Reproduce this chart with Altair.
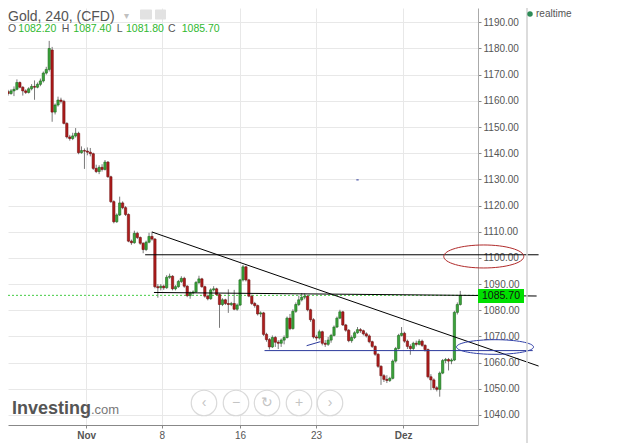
import json
import altair as alt
import pandas as pd

# ---------------- data (4h candles) ----------------
opens = [1163.5, 1162.8, 1163.8, 1164.4, 1167.0, 1165.2, 1163.8, 1163.2, 1164.6, 1165.5,
         1165.2, 1166.3, 1167.6, 1170.6, 1172.0, 1179.4, 1155.7, 1158.4, 1160.3, 1159.8,
         1151.4, 1146.2, 1145.6, 1146.6, 1147.6, 1140.2, 1141.0, 1140.8, 1140.4, 1139.8,
         1134.2, 1133.0, 1134.6, 1133.8, 1136.6, 1131.0, 1121.5, 1113.8, 1116.4, 1121.0,
         1119.2, 1116.6, 1106.4, 1105.8, 1109.4, 1107.8, 1105.6, 1103.2, 1106.0, 1108.2,
         1107.2, 1089.0, 1088.6, 1089.2, 1088.6, 1092.6, 1093.0, 1088.2, 1089.0, 1091.0,
         1092.2, 1089.2, 1085.6, 1086.6, 1087.0, 1090.6, 1092.0, 1089.0, 1085.4, 1084.4,
         1087.8, 1088.2, 1086.0, 1082.2, 1084.0, 1082.6, 1082.2, 1082.6, 1080.4, 1082.0,
         1091.6, 1096.6, 1091.6, 1085.4, 1082.6, 1081.8, 1078.6, 1079.0, 1070.8, 1068.8,
         1066.0, 1069.6, 1067.8, 1067.4, 1068.6, 1069.6, 1077.0, 1073.0, 1079.6, 1082.2,
         1084.0, 1085.0, 1085.4, 1080.2, 1076.4, 1069.8, 1069.4, 1071.8, 1067.4, 1067.0,
         1068.6, 1070.4, 1073.6, 1077.0, 1079.4, 1074.4, 1072.4, 1068.4, 1069.6, 1071.4,
         1072.6, 1072.2, 1071.0, 1070.2, 1068.0, 1066.2, 1063.2, 1058.6, 1055.0, 1053.6,
         1053.2, 1054.0, 1060.6, 1065.4, 1070.4, 1071.2, 1068.2, 1066.2, 1065.4, 1067.4,
         1067.0, 1068.2, 1066.6, 1065.0, 1054.6, 1053.4, 1050.4, 1049.8, 1056.0, 1060.8,
         1061.2, 1060.6, 1061.0, 1079.2, 1082.2]
highs = [1164.2, 1164.5, 1165.5, 1168.2, 1167.4, 1165.6, 1164.4, 1165.2, 1166.4, 1167.8,
         1167.0, 1168.5, 1171.2, 1173.0, 1182.9, 1180.6, 1159.0, 1161.6, 1161.2, 1160.4,
         1151.8, 1147.0, 1147.8, 1149.6, 1148.2, 1142.6, 1141.8, 1142.2, 1142.0, 1140.2,
         1135.6, 1135.4, 1135.8, 1137.4, 1137.0, 1131.4, 1122.0, 1117.0, 1123.4, 1121.6,
         1119.8, 1117.0, 1107.0, 1110.4, 1110.0, 1108.2, 1106.0, 1106.6, 1109.6, 1110.0,
         1107.6, 1090.0, 1090.0, 1089.8, 1093.4, 1094.0, 1093.4, 1089.6, 1091.6, 1093.0,
         1092.8, 1089.6, 1087.2, 1087.6, 1091.2, 1093.2, 1092.4, 1089.4, 1086.0, 1088.4,
         1089.2, 1088.6, 1086.4, 1084.6, 1084.4, 1088.0, 1083.2, 1087.8, 1082.6, 1092.0,
         1097.3, 1097.0, 1092.0, 1086.0, 1083.2, 1082.2, 1079.6, 1079.4, 1071.4, 1069.4,
         1070.4, 1070.2, 1068.6, 1069.2, 1070.4, 1077.6, 1078.6, 1080.4, 1083.0, 1085.6,
         1086.6, 1086.4, 1085.8, 1080.6, 1077.0, 1070.6, 1072.6, 1072.2, 1068.6, 1069.8,
         1071.0, 1074.2, 1077.6, 1080.2, 1079.8, 1074.8, 1072.8, 1070.4, 1072.0, 1073.6,
         1073.2, 1072.6, 1071.6, 1070.8, 1068.4, 1066.6, 1063.6, 1059.0, 1055.6, 1055.2,
         1054.6, 1061.2, 1066.0, 1071.0, 1073.6, 1071.8, 1068.8, 1067.0, 1068.0, 1068.4,
         1069.0, 1068.8, 1067.0, 1065.4, 1055.6, 1054.0, 1051.0, 1056.6, 1061.4, 1061.8,
         1061.8, 1061.6, 1079.8, 1083.0, 1087.4]
lows = [1162.0, 1162.3, 1161.8, 1164.0, 1164.8, 1162.0, 1162.6, 1162.8, 1164.0, 1160.4,
        1164.8, 1165.6, 1167.0, 1170.0, 1171.2, 1152.0, 1154.8, 1157.8, 1159.0, 1151.0,
        1145.6, 1144.8, 1145.0, 1146.0, 1139.6, 1139.8, 1134.0, 1139.2, 1138.8, 1133.6,
        1132.4, 1132.0, 1133.0, 1133.4, 1130.6, 1121.0, 1113.2, 1113.4, 1116.0, 1118.6,
        1116.0, 1106.0, 1105.0, 1105.4, 1107.2, 1105.0, 1101.8, 1102.6, 1105.6, 1106.6,
        1088.4, 1084.8, 1087.6, 1087.8, 1088.2, 1092.0, 1087.6, 1087.6, 1088.6, 1090.4,
        1088.6, 1085.0, 1084.4, 1086.0, 1086.6, 1090.0, 1088.6, 1084.8, 1083.8, 1084.0,
        1087.2, 1085.6, 1073.3, 1081.6, 1082.0, 1079.0, 1081.6, 1080.0, 1079.8, 1081.6,
        1091.0, 1091.0, 1085.0, 1082.0, 1081.0, 1078.0, 1077.4, 1070.2, 1068.0, 1065.0,
        1065.6, 1066.0, 1065.2, 1066.0, 1067.0, 1069.2, 1072.4, 1072.6, 1079.0, 1081.6,
        1083.4, 1084.2, 1079.6, 1075.6, 1069.2, 1068.4, 1068.8, 1066.6, 1066.0, 1066.4,
        1067.6, 1070.0, 1073.2, 1076.6, 1074.0, 1071.8, 1067.8, 1067.6, 1069.0, 1071.0,
        1071.4, 1070.4, 1069.6, 1067.4, 1065.6, 1062.6, 1058.0, 1051.5, 1052.6, 1052.2,
        1052.6, 1053.6, 1060.0, 1065.0, 1070.0, 1067.6, 1065.2, 1063.0, 1064.6, 1066.2,
        1066.6, 1066.0, 1064.2, 1054.0, 1049.5, 1049.6, 1049.0, 1047.0, 1055.6, 1059.8,
        1057.0, 1059.4, 1060.6, 1078.4, 1081.8]
closes = [1162.8, 1163.8, 1164.4, 1167.0, 1165.2, 1163.8, 1163.2, 1164.6, 1165.5, 1165.2,
          1166.3, 1167.6, 1170.6, 1172.0, 1180.0, 1155.7, 1158.4, 1160.3, 1159.8, 1151.4,
          1146.2, 1145.6, 1146.6, 1147.6, 1140.2, 1141.0, 1140.8, 1140.4, 1139.8, 1134.2,
          1133.0, 1134.6, 1133.8, 1136.6, 1131.0, 1121.5, 1113.8, 1116.4, 1121.0, 1119.2,
          1116.6, 1106.4, 1105.8, 1109.4, 1107.8, 1105.6, 1103.2, 1106.0, 1108.2, 1107.2,
          1089.0, 1088.6, 1089.2, 1088.6, 1092.6, 1093.0, 1088.2, 1089.0, 1091.0, 1092.2,
          1089.2, 1085.6, 1086.6, 1087.0, 1090.6, 1092.0, 1089.0, 1085.4, 1084.4, 1087.8,
          1088.2, 1086.0, 1082.2, 1084.0, 1082.6, 1082.2, 1082.6, 1080.4, 1082.0, 1091.6,
          1096.6, 1091.6, 1085.4, 1082.6, 1081.8, 1078.6, 1079.0, 1070.8, 1068.8, 1066.0,
          1069.6, 1067.8, 1067.4, 1068.6, 1069.6, 1077.0, 1073.0, 1079.6, 1082.2, 1084.0,
          1085.0, 1085.4, 1080.2, 1076.4, 1069.8, 1069.4, 1071.8, 1067.4, 1067.0, 1068.6,
          1070.4, 1073.6, 1077.0, 1079.4, 1074.4, 1072.4, 1068.4, 1069.6, 1071.4, 1072.6,
          1072.2, 1071.0, 1070.2, 1068.0, 1066.2, 1063.2, 1058.6, 1055.0, 1053.6, 1053.2,
          1054.0, 1060.6, 1065.4, 1070.4, 1071.2, 1068.2, 1066.2, 1065.4, 1067.4, 1067.0,
          1068.2, 1066.6, 1065.0, 1054.6, 1053.4, 1050.4, 1049.8, 1056.0, 1060.8, 1061.2,
          1060.6, 1061.0, 1079.2, 1082.2, 1085.7]

tick_pos = [26.57, 52.33, 79.0, 104.9, 134.57]
tick_labels = ["Nov", "8", "16", "23", "Dez"]
price_ticks = [1040, 1050, 1060, 1070, 1080, 1090, 1100, 1110, 1120, 1130,
               1140, 1150, 1160, 1170, 1180, 1190]

# drawn annotations (candle index, price)
black_lines = {
    "trend": ([49.0, 180.67], [1109.9, 1058.7]),
    "resist": ([46.67, 180.67], [1101.2, 1101.2]),
    "mid": ([49.67, 180.0], [1086.8, 1085.45]),
}
blue_lines = {
    "support": ([87.33, 178.67], [1064.6, 1064.6]),
    "short": ([101.67, 106.33], [1066.47, 1068.0]),
    "dash": ([118.6, 119.4], [1129.8, 1129.8]),
}
red_ellipse = (162.0, 1100.55)
blue_ellipse = (165.83, 1065.97)
last_price = closes[-1]

# ---------------- chart ----------------
FONT = "Liberation Sans"
df = pd.DataFrame({"k": list(range(len(opens))), "open": opens, "high": highs,
                   "low": lows, "close": closes})
df["dir"] = ["up" if c >= o else "down" for o, c in zip(opens, closes)]

xscale = alt.Scale(domain=[1.667, 158.333], nice=False, zero=False)
yscale = alt.Scale(domain=[1036.18, 1195.46], nice=False, zero=False)

label_expr = f"{json.dumps(tick_labels)}[indexof({json.dumps(tick_pos)}, datum.value)]"
xaxis = alt.Axis(values=tick_pos, labelExpr=label_expr, grid=True, gridColor="#e8e8e8",
                 domainColor="#888", tickColor="#888", tickSize=3, labelPadding=2,
                 labelColor="#555", labelFontSize=10, labelFont=FONT, title=None,
                 labelFontWeight={"condition": {"test": "datum.value < 30 || datum.value > 130",
                                                "value": "bold"}, "value": "normal"})
yaxis = alt.Axis(orient="right", values=price_ticks, format=".2f", grid=True,
                 gridColor="#e8e8e8", domainColor="#aaa", tickColor="#888", tickSize=3,
                 labelPadding=2, labelColor="#555", labelFontSize=10, labelFont=FONT,
                 title=None)


def X(field):
    return alt.X(field, scale=xscale, axis=xaxis)


def Y(field):
    return alt.Y(field, scale=yscale, axis=yaxis)


wicks = alt.Chart(df).mark_rule(color="#7a7a7a", strokeWidth=1, clip=True).encode(
    x=X("k:Q"), y=Y("low:Q"), y2="high:Q")
bodies = alt.Chart(df).mark_bar(size=2.3, strokeWidth=0.6, clip=True).encode(
    x=X("k:Q"), y=Y("open:Q"), y2="close:Q",
    color=alt.Color("dir:N", scale=alt.Scale(domain=["up", "down"], range=["#3aa43a", "#b01c1c"]),
                    legend=None),
    stroke=alt.Stroke("dir:N", scale=alt.Scale(domain=["up", "down"], range=["#1f6a1f", "#6e0d0d"]),
                      legend=None),
)

dotted = alt.Chart(pd.DataFrame({"p": [last_price]})).mark_rule(
    color="#44cc44", strokeDash=[2, 2], strokeWidth=1).encode(y=Y("p:Q"))


def lines_df(d):
    rows = []
    for name, (ks, ps) in d.items():
        for kk, pp in zip(ks, ps):
            rows.append({"id": name, "k": kk, "p": pp})
    return pd.DataFrame(rows)


blk = alt.Chart(lines_df(black_lines)).mark_line(color="black", strokeWidth=1).encode(
    x=X("k:Q"), y=Y("p:Q"), detail="id:N")
blu = alt.Chart(lines_df(blue_lines)).mark_line(color="#2c3a9c", strokeWidth=1).encode(
    x=X("k:Q"), y=Y("p:Q"), detail="id:N")


def ellipse_path(b):
    c = 0.5523
    return (f"M -1,0 C -1,{-b*c:.4f} {-c:.4f},{-b:.4f} 0,{-b:.4f} "
            f"C {c:.4f},{-b:.4f} 1,{-b*c:.4f} 1,0 "
            f"C 1,{b*c:.4f} {c:.4f},{b:.4f} 0,{b:.4f} "
            f"C {-c:.4f},{b:.4f} -1,{b*c:.4f} -1,0 Z")


def ellipse(center, b, size, color):
    return alt.Chart(pd.DataFrame({"k": [center[0]], "p": [center[1]]})).mark_point(
        shape=ellipse_path(b), size=size, filled=False, stroke=color, strokeWidth=1,
        opacity=1).encode(x=X("k:Q"), y=Y("p:Q"))


ell_red = ellipse(red_ellipse, 0.2875, 6400, "#b02a2a")
ell_blue = ellipse(blue_ellipse, 0.19, 5929, "#3040a8")

one = pd.DataFrame({"a": [0]})


def txt(t, px, py, color="#555", size=10, weight="normal", align="left", baseline="middle"):
    return alt.Chart(one).mark_text(text=t, align=align, baseline=baseline, font=FONT,
                                    fontSize=size, fontWeight=weight, color=color).encode(
        x=alt.value(px), y=alt.value(py))


def box(x1, x2, y1, y2, fill, radius=0):
    return alt.Chart(one).mark_rect(fill=fill, cornerRadius=radius).encode(
        x=alt.value(x1), x2=alt.value(x2), y=alt.value(y1), y2=alt.value(y2))


header = [
    txt("Gold, 240, (CFD)", 0, 1.5, color="#555", size=14, baseline="top"),
    txt("▾", 116, 7.5, color="#c0c0c0", size=10),
    box(132, 144, 1.5, 11.5, "#e2e2e2", radius=1),
    box(147, 158, 1.5, 11.5, "#e2e2e2", radius=1),
]
ohlc_vals = [opens[-1], highs[-1], lows[-1], closes[-1]]
ohlc_letters = ["O", "H", "L", "C"]
letter_x = [0, 53.7, 108.7, 160]
value_x = [10.3, 65.3, 118, 173.7]
for lt, lx, v, vx in zip(ohlc_letters, letter_x, ohlc_vals, value_x):
    header.append(txt(lt, lx, 21, color="#555", size=10.5))
    header.append(txt(f"{v:.2f}", vx, 21, color="#2fb82f", size=10.5))

realtime = [
    alt.Chart(one).mark_point(shape="circle", size=30, filled=True, color="#2e8b57",
                              opacity=1).encode(x=alt.value(522), y=alt.value(6)),
    txt("realtime", 528, 6, color="#555", size=10),
]

logo = [
    txt("Investing", 4, 406, color="#555", size=18, weight="bold", baseline="alphabetic"),
    txt(".com", 83, 406, color="#777", size=13, baseline="alphabetic"),
]

nav_x = [196, 228, 259, 291, 322]
nav_sym = ["‹", "−", "↻", "+", "›"]
nav = []
for nx, ns in zip(nav_x, nav_sym):
    nav.append(alt.Chart(one).mark_point(shape="circle", size=650, filled=True, fill="white",
                                         stroke="#d6d6d6", strokeWidth=1.2, opacity=0.9)
               .encode(x=alt.value(nx), y=alt.value(395)))
    nav.append(txt(ns, nx, 395, color="#c4c4c4", size=14, align="center"))

price_box = [
    box(470, 516, 281, 295, "#00e000"),
    txt(f"{last_price:.2f}", 493, 288, color="#111", size=10.5, align="center"),
]

panel_edge = alt.Chart(one).mark_rule(color="#d0d0d0", strokeWidth=1.5).encode(
    x=alt.value(519), y=alt.value(0), y2=alt.value(440))

chart = alt.layer(
    wicks, dotted, bodies, blk, blu, ell_red, ell_blue, panel_edge,
    *price_box, *header, *realtime, *logo, *nav,
).properties(
    width=470, height=417,
    autosize=alt.AutoSizeParams(type="none"),
    padding={"left": 0, "top": 0, "right": 132, "bottom": 18},
    background="white",
).configure_view(stroke=None)

chart.save("out.html", embed_options={"renderer": "svg", "actions": False})
